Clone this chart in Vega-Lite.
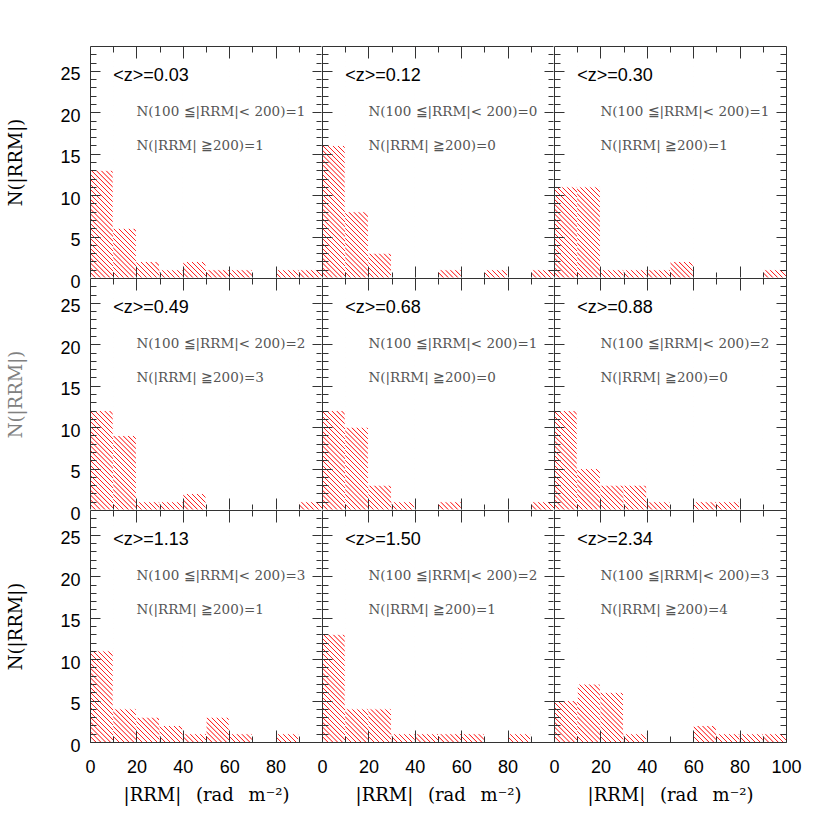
{
"$schema":"https://vega.github.io/schema/vega-lite/v6.json",
"background":"white",
"padding":{"left":7,"top":45,"right":5,"bottom":5},
"datasets":{
"bins":[
{"panel":"0.03","lo":0,"hi":10,"n":13},{"panel":"0.03","lo":10,"hi":20,"n":6},{"panel":"0.03","lo":20,"hi":30,"n":2},{"panel":"0.03","lo":30,"hi":40,"n":1},{"panel":"0.03","lo":40,"hi":50,"n":2},{"panel":"0.03","lo":50,"hi":60,"n":1},{"panel":"0.03","lo":60,"hi":70,"n":1},{"panel":"0.03","lo":70,"hi":80,"n":0},{"panel":"0.03","lo":80,"hi":90,"n":1},{"panel":"0.03","lo":90,"hi":100,"n":1},
{"panel":"0.12","lo":0,"hi":10,"n":16},{"panel":"0.12","lo":10,"hi":20,"n":8},{"panel":"0.12","lo":20,"hi":30,"n":3},{"panel":"0.12","lo":30,"hi":40,"n":0},{"panel":"0.12","lo":40,"hi":50,"n":0},{"panel":"0.12","lo":50,"hi":60,"n":1},{"panel":"0.12","lo":60,"hi":70,"n":0},{"panel":"0.12","lo":70,"hi":80,"n":1},{"panel":"0.12","lo":80,"hi":90,"n":0},{"panel":"0.12","lo":90,"hi":100,"n":1},
{"panel":"0.30","lo":0,"hi":10,"n":11},{"panel":"0.30","lo":10,"hi":20,"n":11},{"panel":"0.30","lo":20,"hi":30,"n":1},{"panel":"0.30","lo":30,"hi":40,"n":1},{"panel":"0.30","lo":40,"hi":50,"n":1},{"panel":"0.30","lo":50,"hi":60,"n":2},{"panel":"0.30","lo":60,"hi":70,"n":0},{"panel":"0.30","lo":70,"hi":80,"n":0},{"panel":"0.30","lo":80,"hi":90,"n":0},{"panel":"0.30","lo":90,"hi":100,"n":1},
{"panel":"0.49","lo":0,"hi":10,"n":12},{"panel":"0.49","lo":10,"hi":20,"n":9},{"panel":"0.49","lo":20,"hi":30,"n":1},{"panel":"0.49","lo":30,"hi":40,"n":1},{"panel":"0.49","lo":40,"hi":50,"n":2},{"panel":"0.49","lo":50,"hi":60,"n":0},{"panel":"0.49","lo":60,"hi":70,"n":0},{"panel":"0.49","lo":70,"hi":80,"n":0},{"panel":"0.49","lo":80,"hi":90,"n":0},{"panel":"0.49","lo":90,"hi":100,"n":1},
{"panel":"0.68","lo":0,"hi":10,"n":12},{"panel":"0.68","lo":10,"hi":20,"n":10},{"panel":"0.68","lo":20,"hi":30,"n":3},{"panel":"0.68","lo":30,"hi":40,"n":1},{"panel":"0.68","lo":40,"hi":50,"n":0},{"panel":"0.68","lo":50,"hi":60,"n":1},{"panel":"0.68","lo":60,"hi":70,"n":0},{"panel":"0.68","lo":70,"hi":80,"n":0},{"panel":"0.68","lo":80,"hi":90,"n":0},{"panel":"0.68","lo":90,"hi":100,"n":1},
{"panel":"0.88","lo":0,"hi":10,"n":12},{"panel":"0.88","lo":10,"hi":20,"n":5},{"panel":"0.88","lo":20,"hi":30,"n":3},{"panel":"0.88","lo":30,"hi":40,"n":3},{"panel":"0.88","lo":40,"hi":50,"n":1},{"panel":"0.88","lo":50,"hi":60,"n":0},{"panel":"0.88","lo":60,"hi":70,"n":1},{"panel":"0.88","lo":70,"hi":80,"n":1},{"panel":"0.88","lo":80,"hi":90,"n":0},{"panel":"0.88","lo":90,"hi":100,"n":0},
{"panel":"1.13","lo":0,"hi":10,"n":11},{"panel":"1.13","lo":10,"hi":20,"n":4},{"panel":"1.13","lo":20,"hi":30,"n":3},{"panel":"1.13","lo":30,"hi":40,"n":2},{"panel":"1.13","lo":40,"hi":50,"n":1},{"panel":"1.13","lo":50,"hi":60,"n":3},{"panel":"1.13","lo":60,"hi":70,"n":1},{"panel":"1.13","lo":70,"hi":80,"n":0},{"panel":"1.13","lo":80,"hi":90,"n":1},{"panel":"1.13","lo":90,"hi":100,"n":0},
{"panel":"1.50","lo":0,"hi":10,"n":13},{"panel":"1.50","lo":10,"hi":20,"n":4},{"panel":"1.50","lo":20,"hi":30,"n":4},{"panel":"1.50","lo":30,"hi":40,"n":1},{"panel":"1.50","lo":40,"hi":50,"n":1},{"panel":"1.50","lo":50,"hi":60,"n":1},{"panel":"1.50","lo":60,"hi":70,"n":1},{"panel":"1.50","lo":70,"hi":80,"n":0},{"panel":"1.50","lo":80,"hi":90,"n":1},{"panel":"1.50","lo":90,"hi":100,"n":0},
{"panel":"2.34","lo":0,"hi":10,"n":5},{"panel":"2.34","lo":10,"hi":20,"n":7},{"panel":"2.34","lo":20,"hi":30,"n":6},{"panel":"2.34","lo":30,"hi":40,"n":1},{"panel":"2.34","lo":40,"hi":50,"n":0},{"panel":"2.34","lo":50,"hi":60,"n":0},{"panel":"2.34","lo":60,"hi":70,"n":2},{"panel":"2.34","lo":70,"hi":80,"n":1},{"panel":"2.34","lo":80,"hi":90,"n":1},{"panel":"2.34","lo":90,"hi":100,"n":1}
],
"info":[
{"panel":"0.03","z":"<z>=0.03","a":"N(100 ≦|RRM|< 200)=1","b":"N(|RRM| ≧200)=1"},
{"panel":"0.12","z":"<z>=0.12","a":"N(100 ≦|RRM|< 200)=0","b":"N(|RRM| ≧200)=0"},
{"panel":"0.30","z":"<z>=0.30","a":"N(100 ≦|RRM|< 200)=1","b":"N(|RRM| ≧200)=1"},
{"panel":"0.49","z":"<z>=0.49","a":"N(100 ≦|RRM|< 200)=2","b":"N(|RRM| ≧200)=3"},
{"panel":"0.68","z":"<z>=0.68","a":"N(100 ≦|RRM|< 200)=1","b":"N(|RRM| ≧200)=0"},
{"panel":"0.88","z":"<z>=0.88","a":"N(100 ≦|RRM|< 200)=2","b":"N(|RRM| ≧200)=0"},
{"panel":"1.13","z":"<z>=1.13","a":"N(100 ≦|RRM|< 200)=3","b":"N(|RRM| ≧200)=1"},
{"panel":"1.50","z":"<z>=1.50","a":"N(100 ≦|RRM|< 200)=2","b":"N(|RRM| ≧200)=1"},
{"panel":"2.34","z":"<z>=2.34","a":"N(100 ≦|RRM|< 200)=3","b":"N(|RRM| ≧200)=4"}
]
},
"columns":3,
"spacing":0,
"bounds":"flush",
"concat":[
{"width":232,"height":232,"resolve":{"axis":{"x":"independent","y":"independent"}},"layer":[
{"data":{"name":"bins"},"transform":[{"filter":"datum.panel==='0.03'"}],"mark":{"type":"rect"},"encoding":{"x":{"field":"lo","type":"quantitative","scale":{"domain":[0,100],"nice":false},"axis":{"orient":"bottom","values":[0,20,40,60,80],"tickSize":-12,"labels":false,"title":null,"zindex":1}},"x2":{"field":"hi"}}},
{"data":{"name":"bins"},"transform":[{"filter":"datum.panel==='0.03'"}],"mark":{"type":"rect","fill":"white","stroke":"white","strokeWidth":1},"encoding":{"x":{"field":"lo","type":"quantitative","axis":{"orient":"bottom","values":[10,30,50,70,90],"tickSize":-6,"labels":false,"domain":false,"title":null,"zindex":1}},"x2":{"field":"hi"},"y":{"field":"n","type":"quantitative","scale":{"domain":[0,28],"nice":false},"axis":{"orient":"left","values":[0,5,10,15,20,25],"tickSize":-10,"title":"N(|RRM|)","zindex":1}},"y2":{"datum":28}}},
{"data":{"name":"info"},"transform":[{"filter":"datum.panel==='0.03'"}],"mark":{"type":"text","align":"left","baseline":"alphabetic","font":"Liberation Sans","fontSize":18,"color":"#000"},"encoding":{"x":{"datum":10,"type":"quantitative","axis":{"orient":"top","values":[20,40,60,80],"tickSize":-12,"labels":false,"title":null,"zindex":1}},"y":{"datum":23.8,"type":"quantitative","axis":{"orient":"left","values":[1,2,3,4,6,7,8,9,11,12,13,14,16,17,18,19,21,22,23,24,26,27],"tickSize":-6,"labels":false,"domain":false,"title":null,"zindex":1}},"text":{"field":"z"}}},
{"data":{"name":"info"},"transform":[{"filter":"datum.panel==='0.03'"}],"mark":{"type":"text","align":"left","baseline":"alphabetic","font":"DejaVu Serif","fontSize":13.5,"color":"#555"},"encoding":{"x":{"datum":20,"type":"quantitative","axis":{"orient":"top","values":[10,30,50,70,90],"tickSize":-6,"labels":false,"domain":false,"title":null,"zindex":1}},"y":{"datum":19.5,"type":"quantitative","axis":{"orient":"right","values":[5,10,15,20,25],"tickSize":-10,"labels":false,"title":null,"zindex":1}},"text":{"field":"a"}}},
{"data":{"name":"info"},"transform":[{"filter":"datum.panel==='0.03'"}],"mark":{"type":"text","align":"left","baseline":"alphabetic","font":"DejaVu Serif","fontSize":13.5,"color":"#555"},"encoding":{"x":{"datum":20,"type":"quantitative","axis":null},"y":{"datum":15.5,"type":"quantitative","axis":{"orient":"right","values":[1,2,3,4,6,7,8,9,11,12,13,14,16,17,18,19,21,22,23,24,26,27],"tickSize":-6,"labels":false,"domain":false,"title":null,"zindex":1}},"text":{"field":"b"}}}
]},
{"width":232,"height":232,"resolve":{"axis":{"x":"independent","y":"independent"}},"layer":[
{"data":{"name":"bins"},"transform":[{"filter":"datum.panel==='0.12'"}],"mark":{"type":"rect"},"encoding":{"x":{"field":"lo","type":"quantitative","scale":{"domain":[0,100],"nice":false},"axis":{"orient":"bottom","values":[0,20,40,60,80],"tickSize":-12,"labels":false,"title":null,"zindex":1}},"x2":{"field":"hi"}}},
{"data":{"name":"bins"},"transform":[{"filter":"datum.panel==='0.12'"}],"mark":{"type":"rect","fill":"white","stroke":"white","strokeWidth":1},"encoding":{"x":{"field":"lo","type":"quantitative","axis":{"orient":"bottom","values":[10,30,50,70,90],"tickSize":-6,"labels":false,"domain":false,"title":null,"zindex":1}},"x2":{"field":"hi"},"y":{"field":"n","type":"quantitative","scale":{"domain":[0,28],"nice":false},"axis":{"orient":"left","values":[0,5,10,15,20,25],"tickSize":-10,"labels":false,"title":null,"zindex":1}},"y2":{"datum":28}}},
{"data":{"name":"info"},"transform":[{"filter":"datum.panel==='0.12'"}],"mark":{"type":"text","align":"left","baseline":"alphabetic","font":"Liberation Sans","fontSize":18,"color":"#000"},"encoding":{"x":{"datum":10,"type":"quantitative","axis":{"orient":"top","values":[20,40,60,80],"tickSize":-12,"labels":false,"title":null,"zindex":1}},"y":{"datum":23.8,"type":"quantitative","axis":{"orient":"left","values":[1,2,3,4,6,7,8,9,11,12,13,14,16,17,18,19,21,22,23,24,26,27],"tickSize":-6,"labels":false,"domain":false,"title":null,"zindex":1}},"text":{"field":"z"}}},
{"data":{"name":"info"},"transform":[{"filter":"datum.panel==='0.12'"}],"mark":{"type":"text","align":"left","baseline":"alphabetic","font":"DejaVu Serif","fontSize":13.5,"color":"#555"},"encoding":{"x":{"datum":20,"type":"quantitative","axis":{"orient":"top","values":[10,30,50,70,90],"tickSize":-6,"labels":false,"domain":false,"title":null,"zindex":1}},"y":{"datum":19.5,"type":"quantitative","axis":{"orient":"right","values":[5,10,15,20,25],"tickSize":-10,"labels":false,"title":null,"zindex":1}},"text":{"field":"a"}}},
{"data":{"name":"info"},"transform":[{"filter":"datum.panel==='0.12'"}],"mark":{"type":"text","align":"left","baseline":"alphabetic","font":"DejaVu Serif","fontSize":13.5,"color":"#555"},"encoding":{"x":{"datum":20,"type":"quantitative","axis":null},"y":{"datum":15.5,"type":"quantitative","axis":{"orient":"right","values":[1,2,3,4,6,7,8,9,11,12,13,14,16,17,18,19,21,22,23,24,26,27],"tickSize":-6,"labels":false,"domain":false,"title":null,"zindex":1}},"text":{"field":"b"}}}
]},
{"width":232,"height":232,"resolve":{"axis":{"x":"independent","y":"independent"}},"layer":[
{"data":{"name":"bins"},"transform":[{"filter":"datum.panel==='0.30'"}],"mark":{"type":"rect"},"encoding":{"x":{"field":"lo","type":"quantitative","scale":{"domain":[0,100],"nice":false},"axis":{"orient":"bottom","values":[0,20,40,60,80,100],"tickSize":-12,"labels":false,"title":null,"zindex":1}},"x2":{"field":"hi"}}},
{"data":{"name":"bins"},"transform":[{"filter":"datum.panel==='0.30'"}],"mark":{"type":"rect","fill":"white","stroke":"white","strokeWidth":1},"encoding":{"x":{"field":"lo","type":"quantitative","axis":{"orient":"bottom","values":[10,30,50,70,90],"tickSize":-6,"labels":false,"domain":false,"title":null,"zindex":1}},"x2":{"field":"hi"},"y":{"field":"n","type":"quantitative","scale":{"domain":[0,28],"nice":false},"axis":{"orient":"left","values":[0,5,10,15,20,25],"tickSize":-10,"labels":false,"title":null,"zindex":1}},"y2":{"datum":28}}},
{"data":{"name":"info"},"transform":[{"filter":"datum.panel==='0.30'"}],"mark":{"type":"text","align":"left","baseline":"alphabetic","font":"Liberation Sans","fontSize":18,"color":"#000"},"encoding":{"x":{"datum":10,"type":"quantitative","axis":{"orient":"top","values":[20,40,60,80],"tickSize":-12,"labels":false,"title":null,"zindex":1}},"y":{"datum":23.8,"type":"quantitative","axis":{"orient":"left","values":[1,2,3,4,6,7,8,9,11,12,13,14,16,17,18,19,21,22,23,24,26,27],"tickSize":-6,"labels":false,"domain":false,"title":null,"zindex":1}},"text":{"field":"z"}}},
{"data":{"name":"info"},"transform":[{"filter":"datum.panel==='0.30'"}],"mark":{"type":"text","align":"left","baseline":"alphabetic","font":"DejaVu Serif","fontSize":13.5,"color":"#555"},"encoding":{"x":{"datum":20,"type":"quantitative","axis":{"orient":"top","values":[10,30,50,70,90],"tickSize":-6,"labels":false,"domain":false,"title":null,"zindex":1}},"y":{"datum":19.5,"type":"quantitative","axis":{"orient":"right","values":[5,10,15,20,25],"tickSize":-10,"labels":false,"title":null,"zindex":1}},"text":{"field":"a"}}},
{"data":{"name":"info"},"transform":[{"filter":"datum.panel==='0.30'"}],"mark":{"type":"text","align":"left","baseline":"alphabetic","font":"DejaVu Serif","fontSize":13.5,"color":"#555"},"encoding":{"x":{"datum":20,"type":"quantitative","axis":null},"y":{"datum":15.5,"type":"quantitative","axis":{"orient":"right","values":[1,2,3,4,6,7,8,9,11,12,13,14,16,17,18,19,21,22,23,24,26,27],"tickSize":-6,"labels":false,"domain":false,"title":null,"zindex":1}},"text":{"field":"b"}}}
]},
{"width":232,"height":232,"resolve":{"axis":{"x":"independent","y":"independent"}},"layer":[
{"data":{"name":"bins"},"transform":[{"filter":"datum.panel==='0.49'"}],"mark":{"type":"rect"},"encoding":{"x":{"field":"lo","type":"quantitative","scale":{"domain":[0,100],"nice":false},"axis":{"orient":"bottom","values":[0,20,40,60,80],"tickSize":-12,"labels":false,"title":null,"zindex":1}},"x2":{"field":"hi"}}},
{"data":{"name":"bins"},"transform":[{"filter":"datum.panel==='0.49'"}],"mark":{"type":"rect","fill":"white","stroke":"white","strokeWidth":1},"encoding":{"x":{"field":"lo","type":"quantitative","axis":{"orient":"bottom","values":[10,30,50,70,90],"tickSize":-6,"labels":false,"domain":false,"title":null,"zindex":1}},"x2":{"field":"hi"},"y":{"field":"n","type":"quantitative","scale":{"domain":[0,28],"nice":false},"axis":{"orient":"left","values":[0,5,10,15,20,25],"tickSize":-10,"title":"N(|RRM|)","titleColor":"#808080","zindex":1}},"y2":{"datum":28}}},
{"data":{"name":"info"},"transform":[{"filter":"datum.panel==='0.49'"}],"mark":{"type":"text","align":"left","baseline":"alphabetic","font":"Liberation Sans","fontSize":18,"color":"#000"},"encoding":{"x":{"datum":10,"type":"quantitative","axis":{"orient":"top","values":[20,40,60,80],"tickSize":-12,"labels":false,"title":null,"zindex":1}},"y":{"datum":23.8,"type":"quantitative","axis":{"orient":"left","values":[1,2,3,4,6,7,8,9,11,12,13,14,16,17,18,19,21,22,23,24,26,27],"tickSize":-6,"labels":false,"domain":false,"title":null,"zindex":1}},"text":{"field":"z"}}},
{"data":{"name":"info"},"transform":[{"filter":"datum.panel==='0.49'"}],"mark":{"type":"text","align":"left","baseline":"alphabetic","font":"DejaVu Serif","fontSize":13.5,"color":"#555"},"encoding":{"x":{"datum":20,"type":"quantitative","axis":{"orient":"top","values":[10,30,50,70,90],"tickSize":-6,"labels":false,"domain":false,"title":null,"zindex":1}},"y":{"datum":19.5,"type":"quantitative","axis":{"orient":"right","values":[5,10,15,20,25],"tickSize":-10,"labels":false,"title":null,"zindex":1}},"text":{"field":"a"}}},
{"data":{"name":"info"},"transform":[{"filter":"datum.panel==='0.49'"}],"mark":{"type":"text","align":"left","baseline":"alphabetic","font":"DejaVu Serif","fontSize":13.5,"color":"#555"},"encoding":{"x":{"datum":20,"type":"quantitative","axis":null},"y":{"datum":15.5,"type":"quantitative","axis":{"orient":"right","values":[1,2,3,4,6,7,8,9,11,12,13,14,16,17,18,19,21,22,23,24,26,27],"tickSize":-6,"labels":false,"domain":false,"title":null,"zindex":1}},"text":{"field":"b"}}}
]},
{"width":232,"height":232,"resolve":{"axis":{"x":"independent","y":"independent"}},"layer":[
{"data":{"name":"bins"},"transform":[{"filter":"datum.panel==='0.68'"}],"mark":{"type":"rect"},"encoding":{"x":{"field":"lo","type":"quantitative","scale":{"domain":[0,100],"nice":false},"axis":{"orient":"bottom","values":[0,20,40,60,80],"tickSize":-12,"labels":false,"title":null,"zindex":1}},"x2":{"field":"hi"}}},
{"data":{"name":"bins"},"transform":[{"filter":"datum.panel==='0.68'"}],"mark":{"type":"rect","fill":"white","stroke":"white","strokeWidth":1},"encoding":{"x":{"field":"lo","type":"quantitative","axis":{"orient":"bottom","values":[10,30,50,70,90],"tickSize":-6,"labels":false,"domain":false,"title":null,"zindex":1}},"x2":{"field":"hi"},"y":{"field":"n","type":"quantitative","scale":{"domain":[0,28],"nice":false},"axis":{"orient":"left","values":[0,5,10,15,20,25],"tickSize":-10,"labels":false,"title":null,"zindex":1}},"y2":{"datum":28}}},
{"data":{"name":"info"},"transform":[{"filter":"datum.panel==='0.68'"}],"mark":{"type":"text","align":"left","baseline":"alphabetic","font":"Liberation Sans","fontSize":18,"color":"#000"},"encoding":{"x":{"datum":10,"type":"quantitative","axis":{"orient":"top","values":[20,40,60,80],"tickSize":-12,"labels":false,"title":null,"zindex":1}},"y":{"datum":23.8,"type":"quantitative","axis":{"orient":"left","values":[1,2,3,4,6,7,8,9,11,12,13,14,16,17,18,19,21,22,23,24,26,27],"tickSize":-6,"labels":false,"domain":false,"title":null,"zindex":1}},"text":{"field":"z"}}},
{"data":{"name":"info"},"transform":[{"filter":"datum.panel==='0.68'"}],"mark":{"type":"text","align":"left","baseline":"alphabetic","font":"DejaVu Serif","fontSize":13.5,"color":"#555"},"encoding":{"x":{"datum":20,"type":"quantitative","axis":{"orient":"top","values":[10,30,50,70,90],"tickSize":-6,"labels":false,"domain":false,"title":null,"zindex":1}},"y":{"datum":19.5,"type":"quantitative","axis":{"orient":"right","values":[5,10,15,20,25],"tickSize":-10,"labels":false,"title":null,"zindex":1}},"text":{"field":"a"}}},
{"data":{"name":"info"},"transform":[{"filter":"datum.panel==='0.68'"}],"mark":{"type":"text","align":"left","baseline":"alphabetic","font":"DejaVu Serif","fontSize":13.5,"color":"#555"},"encoding":{"x":{"datum":20,"type":"quantitative","axis":null},"y":{"datum":15.5,"type":"quantitative","axis":{"orient":"right","values":[1,2,3,4,6,7,8,9,11,12,13,14,16,17,18,19,21,22,23,24,26,27],"tickSize":-6,"labels":false,"domain":false,"title":null,"zindex":1}},"text":{"field":"b"}}}
]},
{"width":232,"height":232,"resolve":{"axis":{"x":"independent","y":"independent"}},"layer":[
{"data":{"name":"bins"},"transform":[{"filter":"datum.panel==='0.88'"}],"mark":{"type":"rect"},"encoding":{"x":{"field":"lo","type":"quantitative","scale":{"domain":[0,100],"nice":false},"axis":{"orient":"bottom","values":[0,20,40,60,80,100],"tickSize":-12,"labels":false,"title":null,"zindex":1}},"x2":{"field":"hi"}}},
{"data":{"name":"bins"},"transform":[{"filter":"datum.panel==='0.88'"}],"mark":{"type":"rect","fill":"white","stroke":"white","strokeWidth":1},"encoding":{"x":{"field":"lo","type":"quantitative","axis":{"orient":"bottom","values":[10,30,50,70,90],"tickSize":-6,"labels":false,"domain":false,"title":null,"zindex":1}},"x2":{"field":"hi"},"y":{"field":"n","type":"quantitative","scale":{"domain":[0,28],"nice":false},"axis":{"orient":"left","values":[0,5,10,15,20,25],"tickSize":-10,"labels":false,"title":null,"zindex":1}},"y2":{"datum":28}}},
{"data":{"name":"info"},"transform":[{"filter":"datum.panel==='0.88'"}],"mark":{"type":"text","align":"left","baseline":"alphabetic","font":"Liberation Sans","fontSize":18,"color":"#000"},"encoding":{"x":{"datum":10,"type":"quantitative","axis":{"orient":"top","values":[20,40,60,80],"tickSize":-12,"labels":false,"title":null,"zindex":1}},"y":{"datum":23.8,"type":"quantitative","axis":{"orient":"left","values":[1,2,3,4,6,7,8,9,11,12,13,14,16,17,18,19,21,22,23,24,26,27],"tickSize":-6,"labels":false,"domain":false,"title":null,"zindex":1}},"text":{"field":"z"}}},
{"data":{"name":"info"},"transform":[{"filter":"datum.panel==='0.88'"}],"mark":{"type":"text","align":"left","baseline":"alphabetic","font":"DejaVu Serif","fontSize":13.5,"color":"#555"},"encoding":{"x":{"datum":20,"type":"quantitative","axis":{"orient":"top","values":[10,30,50,70,90],"tickSize":-6,"labels":false,"domain":false,"title":null,"zindex":1}},"y":{"datum":19.5,"type":"quantitative","axis":{"orient":"right","values":[5,10,15,20,25],"tickSize":-10,"labels":false,"title":null,"zindex":1}},"text":{"field":"a"}}},
{"data":{"name":"info"},"transform":[{"filter":"datum.panel==='0.88'"}],"mark":{"type":"text","align":"left","baseline":"alphabetic","font":"DejaVu Serif","fontSize":13.5,"color":"#555"},"encoding":{"x":{"datum":20,"type":"quantitative","axis":null},"y":{"datum":15.5,"type":"quantitative","axis":{"orient":"right","values":[1,2,3,4,6,7,8,9,11,12,13,14,16,17,18,19,21,22,23,24,26,27],"tickSize":-6,"labels":false,"domain":false,"title":null,"zindex":1}},"text":{"field":"b"}}}
]},
{"width":232,"height":232,"resolve":{"axis":{"x":"independent","y":"independent"}},"layer":[
{"data":{"name":"bins"},"transform":[{"filter":"datum.panel==='1.13'"}],"mark":{"type":"rect"},"encoding":{"x":{"field":"lo","type":"quantitative","scale":{"domain":[0,100],"nice":false},"axis":{"orient":"bottom","values":[0,20,40,60,80],"tickSize":-12,"title":"|RRM|\u2002\u00a0(rad\u2002\u00a0m\u207b\u00b2)","zindex":1}},"x2":{"field":"hi"}}},
{"data":{"name":"bins"},"transform":[{"filter":"datum.panel==='1.13'"}],"mark":{"type":"rect","fill":"white","stroke":"white","strokeWidth":1},"encoding":{"x":{"field":"lo","type":"quantitative","axis":{"orient":"bottom","values":[10,30,50,70,90],"tickSize":-6,"labels":false,"domain":false,"title":null,"zindex":1}},"x2":{"field":"hi"},"y":{"field":"n","type":"quantitative","scale":{"domain":[0,28],"nice":false},"axis":{"orient":"left","values":[0,5,10,15,20,25],"tickSize":-10,"title":"N(|RRM|)","zindex":1}},"y2":{"datum":28}}},
{"data":{"name":"info"},"transform":[{"filter":"datum.panel==='1.13'"}],"mark":{"type":"text","align":"left","baseline":"alphabetic","font":"Liberation Sans","fontSize":18,"color":"#000"},"encoding":{"x":{"datum":10,"type":"quantitative","axis":{"orient":"top","values":[20,40,60,80],"tickSize":-12,"labels":false,"title":null,"zindex":1}},"y":{"datum":23.8,"type":"quantitative","axis":{"orient":"left","values":[1,2,3,4,6,7,8,9,11,12,13,14,16,17,18,19,21,22,23,24,26,27],"tickSize":-6,"labels":false,"domain":false,"title":null,"zindex":1}},"text":{"field":"z"}}},
{"data":{"name":"info"},"transform":[{"filter":"datum.panel==='1.13'"}],"mark":{"type":"text","align":"left","baseline":"alphabetic","font":"DejaVu Serif","fontSize":13.5,"color":"#555"},"encoding":{"x":{"datum":20,"type":"quantitative","axis":{"orient":"top","values":[10,30,50,70,90],"tickSize":-6,"labels":false,"domain":false,"title":null,"zindex":1}},"y":{"datum":19.5,"type":"quantitative","axis":{"orient":"right","values":[5,10,15,20,25],"tickSize":-10,"labels":false,"title":null,"zindex":1}},"text":{"field":"a"}}},
{"data":{"name":"info"},"transform":[{"filter":"datum.panel==='1.13'"}],"mark":{"type":"text","align":"left","baseline":"alphabetic","font":"DejaVu Serif","fontSize":13.5,"color":"#555"},"encoding":{"x":{"datum":20,"type":"quantitative","axis":null},"y":{"datum":15.5,"type":"quantitative","axis":{"orient":"right","values":[1,2,3,4,6,7,8,9,11,12,13,14,16,17,18,19,21,22,23,24,26,27],"tickSize":-6,"labels":false,"domain":false,"title":null,"zindex":1}},"text":{"field":"b"}}}
]},
{"width":232,"height":232,"resolve":{"axis":{"x":"independent","y":"independent"}},"layer":[
{"data":{"name":"bins"},"transform":[{"filter":"datum.panel==='1.50'"}],"mark":{"type":"rect"},"encoding":{"x":{"field":"lo","type":"quantitative","scale":{"domain":[0,100],"nice":false},"axis":{"orient":"bottom","values":[0,20,40,60,80],"tickSize":-12,"title":"|RRM|\u2002\u00a0(rad\u2002\u00a0m\u207b\u00b2)","zindex":1}},"x2":{"field":"hi"}}},
{"data":{"name":"bins"},"transform":[{"filter":"datum.panel==='1.50'"}],"mark":{"type":"rect","fill":"white","stroke":"white","strokeWidth":1},"encoding":{"x":{"field":"lo","type":"quantitative","axis":{"orient":"bottom","values":[10,30,50,70,90],"tickSize":-6,"labels":false,"domain":false,"title":null,"zindex":1}},"x2":{"field":"hi"},"y":{"field":"n","type":"quantitative","scale":{"domain":[0,28],"nice":false},"axis":{"orient":"left","values":[0,5,10,15,20,25],"tickSize":-10,"labels":false,"title":null,"zindex":1}},"y2":{"datum":28}}},
{"data":{"name":"info"},"transform":[{"filter":"datum.panel==='1.50'"}],"mark":{"type":"text","align":"left","baseline":"alphabetic","font":"Liberation Sans","fontSize":18,"color":"#000"},"encoding":{"x":{"datum":10,"type":"quantitative","axis":{"orient":"top","values":[20,40,60,80],"tickSize":-12,"labels":false,"title":null,"zindex":1}},"y":{"datum":23.8,"type":"quantitative","axis":{"orient":"left","values":[1,2,3,4,6,7,8,9,11,12,13,14,16,17,18,19,21,22,23,24,26,27],"tickSize":-6,"labels":false,"domain":false,"title":null,"zindex":1}},"text":{"field":"z"}}},
{"data":{"name":"info"},"transform":[{"filter":"datum.panel==='1.50'"}],"mark":{"type":"text","align":"left","baseline":"alphabetic","font":"DejaVu Serif","fontSize":13.5,"color":"#555"},"encoding":{"x":{"datum":20,"type":"quantitative","axis":{"orient":"top","values":[10,30,50,70,90],"tickSize":-6,"labels":false,"domain":false,"title":null,"zindex":1}},"y":{"datum":19.5,"type":"quantitative","axis":{"orient":"right","values":[5,10,15,20,25],"tickSize":-10,"labels":false,"title":null,"zindex":1}},"text":{"field":"a"}}},
{"data":{"name":"info"},"transform":[{"filter":"datum.panel==='1.50'"}],"mark":{"type":"text","align":"left","baseline":"alphabetic","font":"DejaVu Serif","fontSize":13.5,"color":"#555"},"encoding":{"x":{"datum":20,"type":"quantitative","axis":null},"y":{"datum":15.5,"type":"quantitative","axis":{"orient":"right","values":[1,2,3,4,6,7,8,9,11,12,13,14,16,17,18,19,21,22,23,24,26,27],"tickSize":-6,"labels":false,"domain":false,"title":null,"zindex":1}},"text":{"field":"b"}}}
]},
{"width":232,"height":232,"resolve":{"axis":{"x":"independent","y":"independent"}},"layer":[
{"data":{"name":"bins"},"transform":[{"filter":"datum.panel==='2.34'"}],"mark":{"type":"rect"},"encoding":{"x":{"field":"lo","type":"quantitative","scale":{"domain":[0,100],"nice":false},"axis":{"orient":"bottom","values":[0,20,40,60,80,100],"tickSize":-12,"title":"|RRM|\u2002\u00a0(rad\u2002\u00a0m\u207b\u00b2)","zindex":1}},"x2":{"field":"hi"}}},
{"data":{"name":"bins"},"transform":[{"filter":"datum.panel==='2.34'"}],"mark":{"type":"rect","fill":"white","stroke":"white","strokeWidth":1},"encoding":{"x":{"field":"lo","type":"quantitative","axis":{"orient":"bottom","values":[10,30,50,70,90],"tickSize":-6,"labels":false,"domain":false,"title":null,"zindex":1}},"x2":{"field":"hi"},"y":{"field":"n","type":"quantitative","scale":{"domain":[0,28],"nice":false},"axis":{"orient":"left","values":[0,5,10,15,20,25],"tickSize":-10,"labels":false,"title":null,"zindex":1}},"y2":{"datum":28}}},
{"data":{"name":"info"},"transform":[{"filter":"datum.panel==='2.34'"}],"mark":{"type":"text","align":"left","baseline":"alphabetic","font":"Liberation Sans","fontSize":18,"color":"#000"},"encoding":{"x":{"datum":10,"type":"quantitative","axis":{"orient":"top","values":[20,40,60,80],"tickSize":-12,"labels":false,"title":null,"zindex":1}},"y":{"datum":23.8,"type":"quantitative","axis":{"orient":"left","values":[1,2,3,4,6,7,8,9,11,12,13,14,16,17,18,19,21,22,23,24,26,27],"tickSize":-6,"labels":false,"domain":false,"title":null,"zindex":1}},"text":{"field":"z"}}},
{"data":{"name":"info"},"transform":[{"filter":"datum.panel==='2.34'"}],"mark":{"type":"text","align":"left","baseline":"alphabetic","font":"DejaVu Serif","fontSize":13.5,"color":"#555"},"encoding":{"x":{"datum":20,"type":"quantitative","axis":{"orient":"top","values":[10,30,50,70,90],"tickSize":-6,"labels":false,"domain":false,"title":null,"zindex":1}},"y":{"datum":19.5,"type":"quantitative","axis":{"orient":"right","values":[5,10,15,20,25],"tickSize":-10,"labels":false,"title":null,"zindex":1}},"text":{"field":"a"}}},
{"data":{"name":"info"},"transform":[{"filter":"datum.panel==='2.34'"}],"mark":{"type":"text","align":"left","baseline":"alphabetic","font":"DejaVu Serif","fontSize":13.5,"color":"#555"},"encoding":{"x":{"datum":20,"type":"quantitative","axis":null},"y":{"datum":15.5,"type":"quantitative","axis":{"orient":"right","values":[1,2,3,4,6,7,8,9,11,12,13,14,16,17,18,19,21,22,23,24,26,27],"tickSize":-6,"labels":false,"domain":false,"title":null,"zindex":1}},"text":{"field":"b"}}}
]}
],
"config":{
"view":{"stroke":null},
"font":"Liberation Sans",
"axis":{"grid":false,"domainColor":"#333","tickColor":"#333","domainWidth":1,"tickWidth":1,"labelFont":"Liberation Sans","labelFontSize":18,"labelColor":"#000","labelFlush":false,"labelOverlap":false,"labelBound":false,"titleFont":"DejaVu Serif","titleFontSize":18,"titleFontWeight":"normal","titleColor":"#000"},
"axisX":{"labelPadding":28,"titlePadding":10,"labelAngle":0},
"axisY":{"labelPadding":20,"titlePadding":34,"labelOffset":4},
"rect":{"stroke":null,"fill":{"gradient":"linear","x1":0,"y1":1,"x2":0.1089,"y2":-0.089,"stops":[
{"offset":0,"color":"#fff"},{"offset":0.0018,"color":"#f22"},{"offset":0.0042,"color":"#f22"},{"offset":0.006,"color":"#fff"},
{"offset":0.0192,"color":"#fff"},{"offset":0.021,"color":"#f22"},{"offset":0.0234,"color":"#f22"},{"offset":0.0252,"color":"#fff"},
{"offset":0.0385,"color":"#fff"},{"offset":0.0403,"color":"#f22"},{"offset":0.0427,"color":"#f22"},{"offset":0.0445,"color":"#fff"},
{"offset":0.0577,"color":"#fff"},{"offset":0.0595,"color":"#f22"},{"offset":0.0619,"color":"#f22"},{"offset":0.0637,"color":"#fff"},
{"offset":0.0769,"color":"#fff"},{"offset":0.0787,"color":"#f22"},{"offset":0.0811,"color":"#f22"},{"offset":0.0829,"color":"#fff"},
{"offset":0.0962,"color":"#fff"},{"offset":0.098,"color":"#f22"},{"offset":0.1004,"color":"#f22"},{"offset":0.1022,"color":"#fff"},
{"offset":0.1154,"color":"#fff"},{"offset":0.1172,"color":"#f22"},{"offset":0.1196,"color":"#f22"},{"offset":0.1214,"color":"#fff"},
{"offset":0.1346,"color":"#fff"},{"offset":0.1364,"color":"#f22"},{"offset":0.1388,"color":"#f22"},{"offset":0.1406,"color":"#fff"},
{"offset":0.1538,"color":"#fff"},{"offset":0.1556,"color":"#f22"},{"offset":0.158,"color":"#f22"},{"offset":0.1598,"color":"#fff"},
{"offset":0.1731,"color":"#fff"},{"offset":0.1749,"color":"#f22"},{"offset":0.1773,"color":"#f22"},{"offset":0.1791,"color":"#fff"},
{"offset":0.1923,"color":"#fff"},{"offset":0.1941,"color":"#f22"},{"offset":0.1965,"color":"#f22"},{"offset":0.1983,"color":"#fff"},
{"offset":0.2115,"color":"#fff"},{"offset":0.2133,"color":"#f22"},{"offset":0.2157,"color":"#f22"},{"offset":0.2175,"color":"#fff"},
{"offset":0.2308,"color":"#fff"},{"offset":0.2326,"color":"#f22"},{"offset":0.235,"color":"#f22"},{"offset":0.2368,"color":"#fff"},
{"offset":0.25,"color":"#fff"},{"offset":0.2518,"color":"#f22"},{"offset":0.2542,"color":"#f22"},{"offset":0.256,"color":"#fff"},
{"offset":0.2692,"color":"#fff"},{"offset":0.271,"color":"#f22"},{"offset":0.2734,"color":"#f22"},{"offset":0.2752,"color":"#fff"},
{"offset":0.2885,"color":"#fff"},{"offset":0.2903,"color":"#f22"},{"offset":0.2927,"color":"#f22"},{"offset":0.2945,"color":"#fff"},
{"offset":0.3077,"color":"#fff"},{"offset":0.3095,"color":"#f22"},{"offset":0.3119,"color":"#f22"},{"offset":0.3137,"color":"#fff"},
{"offset":0.3269,"color":"#fff"},{"offset":0.3287,"color":"#f22"},{"offset":0.3311,"color":"#f22"},{"offset":0.3329,"color":"#fff"},
{"offset":0.3462,"color":"#fff"},{"offset":0.348,"color":"#f22"},{"offset":0.3504,"color":"#f22"},{"offset":0.3522,"color":"#fff"},
{"offset":0.3654,"color":"#fff"},{"offset":0.3672,"color":"#f22"},{"offset":0.3696,"color":"#f22"},{"offset":0.3714,"color":"#fff"},
{"offset":0.3846,"color":"#fff"},{"offset":0.3864,"color":"#f22"},{"offset":0.3888,"color":"#f22"},{"offset":0.3906,"color":"#fff"},
{"offset":0.4038,"color":"#fff"},{"offset":0.4056,"color":"#f22"},{"offset":0.408,"color":"#f22"},{"offset":0.4098,"color":"#fff"},
{"offset":0.4231,"color":"#fff"},{"offset":0.4249,"color":"#f22"},{"offset":0.4273,"color":"#f22"},{"offset":0.4291,"color":"#fff"},
{"offset":0.4423,"color":"#fff"},{"offset":0.4441,"color":"#f22"},{"offset":0.4465,"color":"#f22"},{"offset":0.4483,"color":"#fff"},
{"offset":0.4615,"color":"#fff"},{"offset":0.4633,"color":"#f22"},{"offset":0.4657,"color":"#f22"},{"offset":0.4675,"color":"#fff"},
{"offset":0.4808,"color":"#fff"},{"offset":0.4826,"color":"#f22"},{"offset":0.485,"color":"#f22"},{"offset":0.4868,"color":"#fff"},
{"offset":0.5,"color":"#fff"},{"offset":0.5018,"color":"#f22"},{"offset":0.5042,"color":"#f22"},{"offset":0.506,"color":"#fff"},
{"offset":0.5192,"color":"#fff"},{"offset":0.521,"color":"#f22"},{"offset":0.5234,"color":"#f22"},{"offset":0.5252,"color":"#fff"},
{"offset":0.5385,"color":"#fff"},{"offset":0.5403,"color":"#f22"},{"offset":0.5427,"color":"#f22"},{"offset":0.5445,"color":"#fff"},
{"offset":0.5577,"color":"#fff"},{"offset":0.5595,"color":"#f22"},{"offset":0.5619,"color":"#f22"},{"offset":0.5637,"color":"#fff"},
{"offset":0.5769,"color":"#fff"},{"offset":0.5787,"color":"#f22"},{"offset":0.5811,"color":"#f22"},{"offset":0.5829,"color":"#fff"},
{"offset":0.5962,"color":"#fff"},{"offset":0.598,"color":"#f22"},{"offset":0.6004,"color":"#f22"},{"offset":0.6022,"color":"#fff"},
{"offset":0.6154,"color":"#fff"},{"offset":0.6172,"color":"#f22"},{"offset":0.6196,"color":"#f22"},{"offset":0.6214,"color":"#fff"},
{"offset":0.6346,"color":"#fff"},{"offset":0.6364,"color":"#f22"},{"offset":0.6388,"color":"#f22"},{"offset":0.6406,"color":"#fff"},
{"offset":0.6538,"color":"#fff"},{"offset":0.6556,"color":"#f22"},{"offset":0.658,"color":"#f22"},{"offset":0.6598,"color":"#fff"},
{"offset":0.6731,"color":"#fff"},{"offset":0.6749,"color":"#f22"},{"offset":0.6773,"color":"#f22"},{"offset":0.6791,"color":"#fff"},
{"offset":0.6923,"color":"#fff"},{"offset":0.6941,"color":"#f22"},{"offset":0.6965,"color":"#f22"},{"offset":0.6983,"color":"#fff"},
{"offset":0.7115,"color":"#fff"},{"offset":0.7133,"color":"#f22"},{"offset":0.7157,"color":"#f22"},{"offset":0.7175,"color":"#fff"},
{"offset":0.7308,"color":"#fff"},{"offset":0.7326,"color":"#f22"},{"offset":0.735,"color":"#f22"},{"offset":0.7368,"color":"#fff"},
{"offset":0.75,"color":"#fff"},{"offset":0.7518,"color":"#f22"},{"offset":0.7542,"color":"#f22"},{"offset":0.756,"color":"#fff"},
{"offset":0.7692,"color":"#fff"},{"offset":0.771,"color":"#f22"},{"offset":0.7734,"color":"#f22"},{"offset":0.7752,"color":"#fff"},
{"offset":0.7885,"color":"#fff"},{"offset":0.7903,"color":"#f22"},{"offset":0.7927,"color":"#f22"},{"offset":0.7945,"color":"#fff"},
{"offset":0.8077,"color":"#fff"},{"offset":0.8095,"color":"#f22"},{"offset":0.8119,"color":"#f22"},{"offset":0.8137,"color":"#fff"},
{"offset":0.8269,"color":"#fff"},{"offset":0.8287,"color":"#f22"},{"offset":0.8311,"color":"#f22"},{"offset":0.8329,"color":"#fff"},
{"offset":0.8462,"color":"#fff"},{"offset":0.848,"color":"#f22"},{"offset":0.8504,"color":"#f22"},{"offset":0.8522,"color":"#fff"},
{"offset":0.8654,"color":"#fff"},{"offset":0.8672,"color":"#f22"},{"offset":0.8696,"color":"#f22"},{"offset":0.8714,"color":"#fff"},
{"offset":0.8846,"color":"#fff"},{"offset":0.8864,"color":"#f22"},{"offset":0.8888,"color":"#f22"},{"offset":0.8906,"color":"#fff"},
{"offset":0.9038,"color":"#fff"},{"offset":0.9056,"color":"#f22"},{"offset":0.908,"color":"#f22"},{"offset":0.9098,"color":"#fff"},
{"offset":0.9231,"color":"#fff"},{"offset":0.9249,"color":"#f22"},{"offset":0.9273,"color":"#f22"},{"offset":0.9291,"color":"#fff"},
{"offset":0.9423,"color":"#fff"},{"offset":0.9441,"color":"#f22"},{"offset":0.9465,"color":"#f22"},{"offset":0.9483,"color":"#fff"},
{"offset":0.9615,"color":"#fff"},{"offset":0.9633,"color":"#f22"},{"offset":0.9657,"color":"#f22"},{"offset":0.9675,"color":"#fff"},
{"offset":0.9808,"color":"#fff"},{"offset":0.9826,"color":"#f22"},{"offset":0.985,"color":"#f22"},{"offset":0.9868,"color":"#fff"},
{"offset":1,"color":"#fff"}
]}}
}
}
